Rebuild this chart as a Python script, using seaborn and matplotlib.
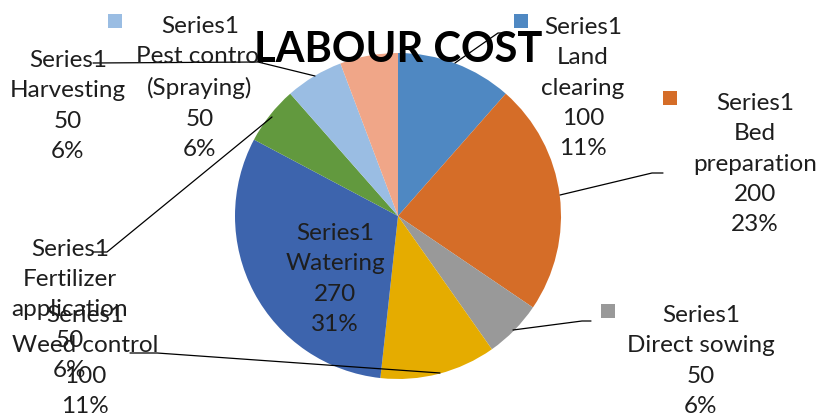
import matplotlib
matplotlib.use("Agg")
import matplotlib.pyplot as plt
import seaborn as sns

# ---- data ----
series_name = "Series1"
categories = ["Land clearing", "Bed preparation", "Direct sowing", "Weed control",
              "Watering", "Fertilizer application", "Harvesting", "Pest control (Spraying)"]
label_names = ["Land\nclearing", "Bed\npreparation", "Direct sowing", "Weed control",
               "Watering", "Fertilizer\napplication", "Harvesting", "Pest control\n(Spraying)"]
values = [100, 200, 50, 100, 270, 50, 50, 50]
title = "LABOUR COST"

# ---- style ----
colors = ["#4F88C2", "#D56D28", "#999999", "#E5AC00",
          "#3D64AD", "#62993E", "#9ABDE3", "#F0A688"]
sns.set_theme(style="white")
plt.rcParams["font.family"] = ["Lato", "DejaVu Sans"]
palette = sns.color_palette(colors)

W, H = 820, 419
fig = plt.figure(figsize=(W / 100, H / 100), dpi=100)
ax = fig.add_axes([0, 0, 1, 1])

# pie (image-pixel layout: centre (398, 216), radius 163)
cx, cy, r = 398, H - 216, 163
ax.pie(values, colors=palette, startangle=90, counterclock=False,
       center=(cx, cy), radius=r, wedgeprops=dict(linewidth=0), frame=True)
ax.set_xlim(0, W)
ax.set_ylim(0, H)
ax.set_aspect("equal")
ax.axis("off")

total = sum(values)
# label block centres (image coordinates) – layout only
label_pos = [(583, 88), (755, 164), (701, 361), (85, 361),
             (335, 279), (70, 310), (68, 106), (200, 88)]
for name, v, (lx, ly) in zip(label_names, values, label_pos):
    pct = round(v / total * 100)
    ax.text(lx, H - ly, f"{series_name}\n{name}\n{v}\n{pct}%", ha="center", va="center",
            fontsize=17.5, color="#1E1E1E", linespacing=1.55, zorder=5)

# legend keys beside labels (index of colour, image position)
keys = [(0, 521, 21), (1, 670, 98), (2, 608, 311), (6, 115, 21)]
for ci, kx, ky in keys:
    ax.scatter([kx], [H - ky], marker="s", s=95, color=palette[ci], linewidths=0, zorder=5)

# leader lines (image coordinates)
leaders = [
    [(455, 63), (498, 33), (506, 33)],
    [(560, 195), (652, 173), (663, 173)],
    [(513, 330), (582, 321), (591, 321)],
    [(130, 353), (157, 353), (440, 373)],
    [(93, 252), (107, 252), (272, 117)],
    [(93, 63), (258, 62), (315, 76)],
]
for pts in leaders:
    xs = [p[0] for p in pts]
    ys = [H - p[1] for p in pts]
    ax.plot(xs, ys, color="black", lw=0.9, zorder=4)

ax.text(398, H - 62, title, ha="center", va="baseline", fontsize=30,
        fontweight="bold", color="black", zorder=6)

fig.savefig("out.png", dpi=100)
